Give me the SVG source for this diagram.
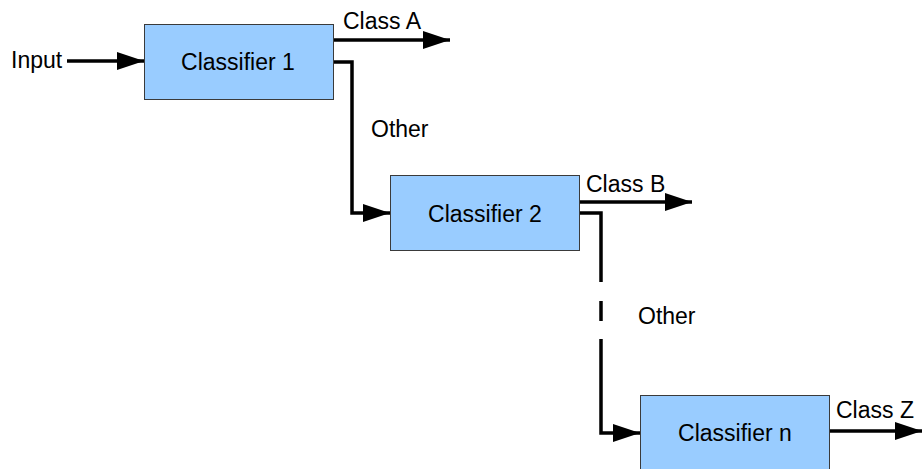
<svg xmlns="http://www.w3.org/2000/svg" width="922" height="469" viewBox="0 0 922 469">
  <style>
    .box { fill: #99ccff; stroke: #3a3a3a; stroke-width: 1; }
    .lbl { font-family: "Liberation Sans", Arial, sans-serif; font-size: 23px; fill: #000; }
    .mid { text-anchor: middle; }
    .wire { fill: none; stroke: #000; stroke-width: 3.5; }
  </style>
  <defs>
    <marker id="arrow" viewBox="0 0 27 18" refX="27" refY="9" markerWidth="27" markerHeight="18" markerUnits="userSpaceOnUse" orient="auto">
      <path d="M0,0 L27,9 L0,18 Z" fill="#000"/>
    </marker>
  </defs>
  <rect width="922" height="469" fill="#fff"/>

  <g id="connectors">
    <path class="wire" d="M67,61 L144,61" marker-end="url(#arrow)"/>
    <path class="wire" d="M333,40 L450,40" marker-end="url(#arrow)"/>
    <path class="wire" d="M333,62 L352,62 L352,213 L390,213" marker-end="url(#arrow)"/>
    <path class="wire" d="M579,202 L692,202" marker-end="url(#arrow)"/>
    <path class="wire" d="M579,213 L601,213 L601,282"/>
    <path class="wire" d="M601,301 L601,321"/>
    <path class="wire" d="M601,339 L601,433 L640,433" marker-end="url(#arrow)"/>
    <path class="wire" d="M829,431 L922,431" marker-end="url(#arrow)"/>
    <text class="lbl" x="11" y="68">Input</text>
    <text class="lbl" x="343" y="29">Class A</text>
    <text class="lbl" x="371" y="137">Other</text>
    <text class="lbl" x="586" y="192">Class B</text>
    <text class="lbl" x="638" y="324">Other</text>
    <text class="lbl" x="836" y="418">Class Z</text>
  </g>

  <g id="classifier1">
    <rect class="box" x="144.5" y="24.5" width="189" height="75"/>
    <text class="lbl mid" x="238" y="70">Classifier 1</text>
  </g>
  <g id="classifier2">
    <rect class="box" x="390.5" y="175.5" width="189" height="75"/>
    <text class="lbl mid" x="485" y="222">Classifier 2</text>
  </g>
  <g id="classifiern">
    <rect class="box" x="640.5" y="395.5" width="189" height="80"/>
    <text class="lbl mid" x="735" y="441">Classifier n</text>
  </g>
</svg>
